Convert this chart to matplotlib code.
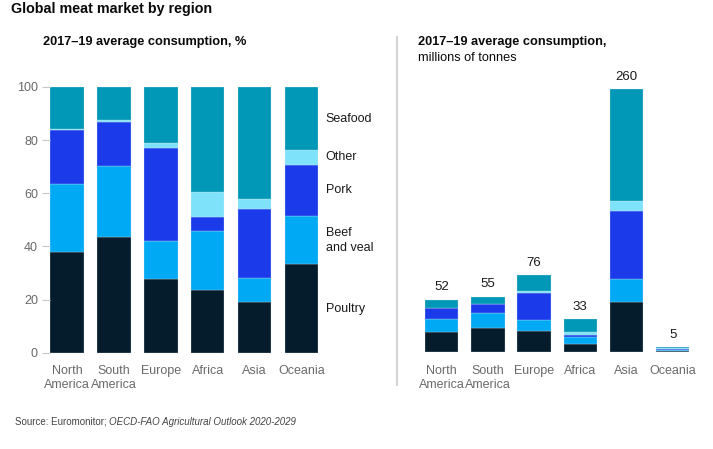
import numpy as np
import matplotlib.pyplot as plt

plt.rcParams['font.family'] = ['Liberation Sans', 'DejaVu Sans']

regions = ['North\nAmerica', 'South\nAmerica', 'Europe', 'Africa', 'Asia', 'Oceania']
meats = ['Poultry', 'Beef\nand veal', 'Pork', 'Other', 'Seafood']
colors = ['#051C2C', '#00A9F4', '#1B3BEA', '#7EE3FA', '#0098B6']

# share of consumption, % (bottom to top: poultry, beef, pork, other, seafood)
poultry_pct = [38.0, 43.4, 27.6, 23.7, 19.2, 33.2]
beef_pct = [25.3, 27.0, 14.3, 22.1, 8.8, 18.1]
pork_pct = [20.5, 16.4, 35.1, 5.2, 25.9, 19.5]
other_pct = [0.4, 0.8, 2.0, 9.4, 3.8, 5.4]
seafood_pct = [15.8, 12.4, 21.0, 39.6, 42.3, 23.8]

# consumption, millions of tonnes
totals = [52, 55, 76, 33, 260, 5]
poultry_mt = [19.8, 23.9, 21.0, 7.8, 49.9, 1.7]
beef_mt = [13.2, 14.8, 10.9, 7.3, 22.9, 0.9]
pork_mt = [10.7, 9.0, 26.7, 1.7, 67.3, 1.0]
other_mt = [0.2, 0.5, 1.5, 3.1, 9.9, 0.3]
seafood_mt = [8.1, 6.8, 15.9, 13.1, 110.0, 1.1]

pct = [poultry_pct, beef_pct, pork_pct, other_pct, seafood_pct]
mt = [poultry_mt, beef_mt, pork_mt, other_mt, seafood_mt]

fig = plt.figure(figsize=(7.13, 4.49), dpi=100)
ax1 = fig.add_axes([0.0708, 0.2145, 0.3752, 0.5918])
ax2 = fig.add_axes([0.5962, 0.2154, 0.3706, 0.5857])

x = np.arange(len(regions))


def stack(ax, series, width):
    bottom = np.zeros(len(regions))
    mids = []
    for vals, col in zip(series, colors):
        vals = np.array(vals)
        ax.bar(x, vals, width, bottom=bottom, color=col,
               edgecolor=(0.85, 0.9, 0.93, 0.6), linewidth=0.35)
        mids.append(bottom[-1] + vals[-1] / 2)
        bottom = bottom + vals
    return bottom, mids


_, mids = stack(ax1, pct, 0.714)
ax1.set_xlim(-0.357, 5.357)
ax1.set_ylim(0, 100)
ax1.set_yticks([0, 20, 40, 60, 80, 100])
ax1.tick_params(axis='y', length=6, color='#c8c8c8', labelcolor='#6a6a6a',
                labelsize=9, pad=3)
ax1.set_xticks(x)
ax1.set_xticklabels(regions)
ax1.tick_params(axis='x', length=0, labelcolor='#6a6a6a', labelsize=9, pad=9)
for s in ax1.spines.values():
    s.set_visible(False)

# series labels beside the last bar
for name, m in zip(meats, mids):
    ax1.text(5.52, m, name, fontsize=9, color='#1a1a1a', va='center',
             ha='left', linespacing=1.3)

tops, _ = stack(ax2, mt, 0.72)
ax2.set_xlim(-0.36, 5.36)
ax2.set_ylim(0, 260)
ax2.set_yticks([])
ax2.set_xticks(x)
ax2.set_xticklabels(regions)
ax2.tick_params(axis='x', length=0, labelcolor='#6a6a6a', labelsize=9, pad=9)
for s in ax2.spines.values():
    s.set_visible(False)
for xi, t, lab in zip(x, tops, totals):
    ax2.annotate(str(lab), (xi, t), xytext=(0, 4.5), textcoords='offset points',
                 ha='center', va='bottom', fontsize=9.5, color='#1a1a1a')

# titles and separators
fig.text(11 / 713, 1 - 9.5 / 449, 'Global meat market by region', fontsize=10.3,
         fontweight='bold', color='#0a0a0a', va='center')
fig.text(43 / 713, 1 - 42.3 / 449, '2017\u201319 average consumption, %',
         fontsize=9.2, fontweight='bold', color='#0a0a0a', va='center')
fig.text(418 / 713, 1 - 42.3 / 449, '2017\u201319 average consumption,',
         fontsize=9.2, fontweight='bold', color='#0a0a0a', va='center')
fig.text(418 / 713, 1 - 58.3 / 449, 'millions of tonnes', fontsize=9.2,
         color='#0a0a0a', va='center')
fig.add_artist(plt.Line2D([396.7 / 713, 396.7 / 713], [1 - 37 / 449, 1 - 385 / 449],
                          color='#d4d4d4', linewidth=1.5))

src = fig.text(15 / 713, 1 - 421.7 / 449, 'Source: Euromonitor; ', fontsize=7,
               color='#444444', va='center')
fig.canvas.draw()
bb = src.get_window_extent()
fig.text(bb.x1 / fig.bbox.width, 1 - 421.7 / 449,
         'OECD-FAO Agricultural Outlook 2020-2029', fontsize=7,
         style='italic', color='#444444', va='center')

fig.savefig('out.png', dpi=100)
